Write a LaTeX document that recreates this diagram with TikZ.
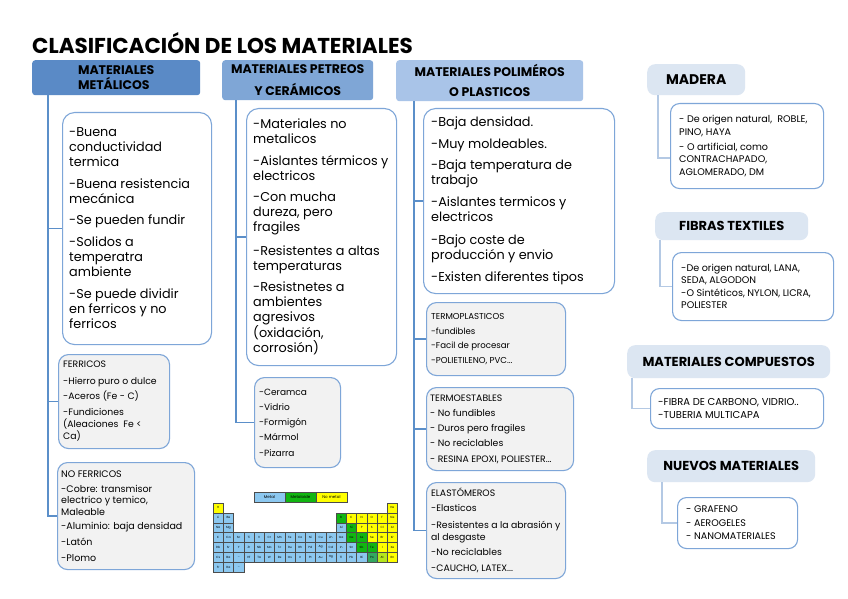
\documentclass[tikz,border=0pt]{standalone}
\usepackage{fontspec}
\setmainfont{Poppins}
\definecolor{hA}{HTML}{5A8AC6}
\definecolor{hB}{HTML}{7FA6D6}
\definecolor{hC}{HTML}{A9C4E8}
\definecolor{hR}{HTML}{DCE6F2}
\definecolor{lineblue}{HTML}{5B8FC9}
\definecolor{boxblue}{HTML}{7EA6D8}
\definecolor{subfill}{HTML}{F2F2F2}
\definecolor{rline}{HTML}{B4C9E4}
\definecolor{pmetal}{HTML}{8CC8F0}
\definecolor{pmetaloid}{HTML}{11B511}
\definecolor{pnon}{HTML}{FFFF00}
\definecolor{pat}{HTML}{B5E61D}
\definecolor{ppo}{HTML}{33A860}
\newcommand\fsz[2]{\fontsize{#1}{#2}\selectfont}
\tikzset{
  bigbox/.style={draw=boxblue, line width=1.1pt, rounded corners=12pt, fill=white, anchor=north west, inner sep=0pt},
  subbox/.style={draw=boxblue, line width=1.1pt, rounded corners=10pt, fill=subfill, anchor=north west, inner sep=0pt},
  rbox/.style={draw=boxblue, line width=1.1pt, rounded corners=9pt, fill=white, anchor=north west, inner sep=0pt},
  colhead/.style={anchor=north west, inner sep=0pt, rounded corners=3pt, align=center},
  rhead/.style={anchor=north west, inner sep=0pt, rounded corners=8pt, fill=hR, font=\fsz{13}{15}\bfseries},
  txt/.style={anchor=west, align=left, inner sep=0pt},
  conn/.style={draw=lineblue, line width=1.4pt},
  rconn/.style={draw=rline, line width=1.3pt},
  pcell/.style={draw=gray!60!black, line width=0.3pt, minimum width=10.25pt, minimum height=9.85pt, inner sep=0pt, font=\fsz{3}{3}},
}
\begin{document}
\begin{tikzpicture}[x=1pt,y=-1pt]
\useasboundingbox (0,0) rectangle (848,599);
\fill[white] (0,0) rectangle (848,599);

% title
\node[anchor=west, inner sep=0pt, font=\fsz{21.5}{24}\bfseries] (title) at (32,43) {CLASIFICACIÓN DE LOS MATERIALES};

% column headers
\node[colhead, fill=hA, minimum width=168pt, minimum height=35pt, align=left, font=\fsz{12.5}{15}\bfseries] (h1) at (32,60) {MATERIALES\\METÁLICOS};
\node[colhead, fill=hB, minimum width=151pt, minimum height=40pt, font=\fsz{12.5}{22}\bfseries] (h2) at (222,60) {MATERIALES PETREOS\\Y CERÁMICOS};
\node[colhead, fill=hC, minimum width=187pt, minimum height=41pt, font=\fsz{12.5}{20}\bfseries] (h3) at (396,60) {MATERIALES POLIMÉROS\\O PLASTICOS};

% column 1
\node[bigbox, minimum width=149pt, minimum height=232pt] (b1) at (62,112) {};
\node[txt, font=\fsz{12.8}{15}] (t1) at ([xshift=7pt]b1.west) {-Buena\\conductividad\\termica\\[6.5pt]-Buena resistencia\\mecánica\\[6.5pt]-Se pueden fundir\\[6.5pt]-Solidos a\\temperatra\\ambiente\\[7.5pt]-Se puede dividir\\en ferricos y no\\ferricos};
\node[subbox, minimum width=111pt, minimum height=94pt] (fe) at (58,354) {};
\node[txt, font=\fsz{9.3}{12}] (tfe) at ([xshift=5pt]fe.west) {FERRICOS\\[5pt]-Hierro puro o dulce\\[3pt]-Aceros (Fe - C)\\[4pt]-Fundiciones\\(Aleaciones~ Fe <\\Ca)};
\node[subbox, minimum width=137pt, minimum height=107pt] (nf) at (57,462) {};
\node[txt, font=\fsz{9.5}{11.5}] (tnf) at ([xshift=4pt]nf.west) {NO FERRICOS\\[3.5pt]-Cobre: transmisor\\electrico y temico,\\Maleable\\[2.5pt]-Aluminio: baja densidad\\[4.5pt]-Latón\\[4.5pt]-Plomo};

% column 2
\node[bigbox, minimum width=150pt, minimum height=257pt] (b2) at (246,108) {};
\node[txt, font=\fsz{12.8}{15}] (t2) at ([xshift=7pt]b2.west) {-Materiales no\\metalicos\\[7pt]-Aislantes térmicos y\\electricos\\[6pt]-Con mucha\\dureza, pero\\fragiles\\[9pt]-Resistentes a altas\\temperaturas\\[6pt]-Resistnetes a\\ambientes\\agresivos\\(oxidación,\\corrosión)};
\node[subbox, minimum width=86pt, minimum height=90pt] (st) at (254,377) {};
\node[txt, font=\fsz{9}{15.3}] (tst) at ([xshift=5pt]st.west) {-Ceramca\\-Vidrio\\-Formigón\\-Mármol\\-Pizarra};

% column 3
\node[bigbox, minimum width=191pt, minimum height=185pt] (b3) at (423,108) {};
\node[txt, font=\fsz{12.8}{15}] (t3) at ([xshift=8pt]b3.west) {-Baja densidad.\\[7pt]-Muy moldeables.\\[6pt]-Baja temperatura de\\trabajo\\[7pt]-Aislantes termicos y\\electricos\\[8pt]-Bajo coste de\\producción y envio\\[7pt]-Existen diferentes tipos};
\node[subbox, minimum width=139pt, minimum height=73pt] (tp) at (426,302) {};
\node[txt, font=\fsz{8.6}{14.5}] (ttp) at ([xshift=5pt]tp.west) {TERMOPLASTICOS\\-fundibles\\-Facil de procesar\\-POLIETILENO, PVC...};
\node[subbox, minimum width=147pt, minimum height=83pt] (te) at (426,387) {};
\node[txt, font=\fsz{9.3}{15.3}] (tte) at ([xshift=4pt]te.west) {TERMOESTABLES\\- No fundibles\\- Duros pero fragiles\\- No reciclables\\- RESINA EPOXI, POLIESTER...};
\node[subbox, minimum width=139pt, minimum height=96pt] (el) at (426,482) {};
\node[txt, font=\fsz{9.3}{12}] (tel) at ([xshift=5pt]el.west) {ELASTÓMEROS\\[3pt]-Elasticos\\[5pt]-Resistentes a la abrasión y\\al desgaste\\[3pt]-No reciclables\\[4pt]-CAUCHO, LATEX...};

% right column
\node[rhead, minimum width=98pt, minimum height=31pt, font=\fsz{14}{16}\bfseries] (mh) at (647,64) {MADERA};
\node[rbox, minimum width=153pt, minimum height=85pt] (mb) at (670,103) {};
\node[txt, font=\fsz{9.6}{12.5}] (tmb) at ([xshift=9pt]mb.west) {- De origen natural,~ ROBLE,\\PINO, HAYA\\[2.5pt]- O artificial, como\\CONTRACHAPADO,\\AGLOMERADO, DM};
\node[rhead, minimum width=153pt, minimum height=28pt] (fh) at (655,212) {FIBRAS TEXTILES};
\node[rbox, minimum width=161pt, minimum height=68pt] (fb) at (672,252) {};
\node[txt, font=\fsz{9.6}{12.3}] (tfb) at ([xshift=9pt]fb.west) {-De origen natural, LANA,\\SEDA, ALGODON\\[0.7pt]-O Sintéticos, NYLON, LICRA,\\POLIESTER};
\node[rhead, minimum width=203pt, minimum height=33pt] (ch) at (627,345) {MATERIALES COMPUESTOS};
\node[rbox, minimum width=173pt, minimum height=40pt] (cb) at (650,388) {};
\node[txt, font=\fsz{10}{13}] (tcb) at ([xshift=8pt]cb.west) {-FIBRA DE CARBONO, VIDRIO..\\-TUBERIA MULTICAPA};
\node[rhead, minimum width=168pt, minimum height=32pt] (nh) at (647,450) {NUEVOS MATERIALES};
\node[rbox, minimum width=120pt, minimum height=51pt] (nb) at (677,497) {};
\node[txt, font=\fsz{9.6}{13.5}] (tnb) at ([xshift=9pt]nb.west) {- GRAFENO\\- AEROGELES\\- NANOMATERIALES};

% connectors
\draw[conn] (h1.south -| 48,0) |- (nf.west);
\draw[conn] (b1.west -| 48,0) -- (b1.west);
\draw[conn] (fe.west -| 48,0) -- (fe.west);
\draw[conn] (h2.south -| 236,0) |- (st.west);
\draw[conn] (b2.west -| 236,0) -- (b2.west);
\draw[conn] (h3.south -| 414,0) |- (el.west);
\draw[conn] (b3.west -| 414,0) -- (b3.west);
\draw[conn] (tp.west -| 414,0) -- (tp.west);
\draw[conn] (te.west -| 414,0) -- (te.west);
\draw[rconn] (mh.south -| 658,0) |- (mb.west |- 0,158);
\draw[rconn] (fh.south -| 660,0) |- (fb.west);
\draw[rconn] (ch.south -| 632,0) |- (cb.west);
\draw[rconn] (nh.south -| 662,0) |- (nb.west);

% periodic table legend
\node[pcell, fill=pmetal, minimum width=31pt, minimum height=10pt, font=\fsz{4}{4}] (lg1) at (269.5,497) {Metal};
\node[pcell, fill=pmetaloid, minimum width=31pt, minimum height=10pt, font=\fsz{4}{4}] (lg2) at (300.5,497) {Metaloide};
\node[pcell, fill=pnon, minimum width=31pt, minimum height=10pt, font=\fsz{4}{4}] (lg3) at (331.5,497) {No metal};

% periodic table
\def\pw{10.25}\def\ph{9.85}
\foreach \cc/\ss/\ff in {1/H/pnon,18/He/pnon}
  {\node[pcell,fill=\ff] (pa-\cc) at ({213+(\cc-0.5)*\pw},{503+0.5*\ph}) {\ss};}
\foreach \cc/\ss/\ff in {1/Li/pmetal,2/Be/pmetal,13/B/pmetaloid,14/C/pnon,15/N/pnon,16/O/pnon,17/F/pnon,18/Ne/pnon}
  {\node[pcell,fill=\ff] (pb-\cc) at ({213+(\cc-0.5)*\pw},{503+1.5*\ph}) {\ss};}
\foreach \cc/\ss/\ff in {1/Na/pmetal,2/Mg/pmetal,13/Al/pmetal,14/Si/pmetaloid,15/P/pnon,16/S/pnon,17/Cl/pnon,18/Ar/pnon}
  {\node[pcell,fill=\ff] (pc-\cc) at ({213+(\cc-0.5)*\pw},{503+2.5*\ph}) {\ss};}
\foreach \cc/\ss/\ff in {1/K/pmetal,2/Ca/pmetal,3/Sc/pmetal,4/Ti/pmetal,5/V/pmetal,6/Cr/pmetal,7/Mn/pmetal,8/Fe/pmetal,9/Co/pmetal,10/Ni/pmetal,11/Cu/pmetal,12/Zn/pmetal,13/Ga/pmetal,14/Ge/pmetaloid,15/As/pmetaloid,16/Se/pnon,17/Br/pnon,18/Kr/pnon}
  {\node[pcell,fill=\ff] (pd-\cc) at ({213+(\cc-0.5)*\pw},{503+3.5*\ph}) {\ss};}
\foreach \cc/\ss/\ff in {1/Rb/pmetal,2/Sr/pmetal,3/Y/pmetal,4/Zr/pmetal,5/Nb/pmetal,6/Mo/pmetal,7/Tc/pmetal,8/Ru/pmetal,9/Rh/pmetal,10/Pd/pmetal,11/Ag/pmetal,12/Cd/pmetal,13/In/pmetal,14/Sn/pmetal,15/Sb/pmetaloid,16/Te/pmetaloid,17/I/pnon,18/Xe/pnon}
  {\node[pcell,fill=\ff] (pe-\cc) at ({213+(\cc-0.5)*\pw},{503+4.5*\ph}) {\ss};}
\foreach \cc/\ss/\ff in {1/Cs/pmetal,2/Ba/pmetal,3/\ldots/pmetal,4/Hf/pmetal,5/Ta/pmetal,6/W/pmetal,7/Re/pmetal,8/Os/pmetal,9/Ir/pmetal,10/Pt/pmetal,11/Au/pmetal,12/Hg/pmetal,13/Tl/pmetal,14/Pb/pmetal,15/Bi/pmetal,16/Po/ppo,17/At/pat,18/Rn/pnon}
  {\node[pcell,fill=\ff] (pf-\cc) at ({213+(\cc-0.5)*\pw},{503+5.5*\ph}) {\ss};}
\foreach \cc/\ss/\ff in {1/Fr/pmetal,2/Ra/pmetal,3/\ldots/pmetal}
  {\node[pcell,fill=\ff] (pg-\cc) at ({213+(\cc-0.5)*\pw},{503+6.5*\ph}) {\ss};}
\end{tikzpicture}
\end{document}
